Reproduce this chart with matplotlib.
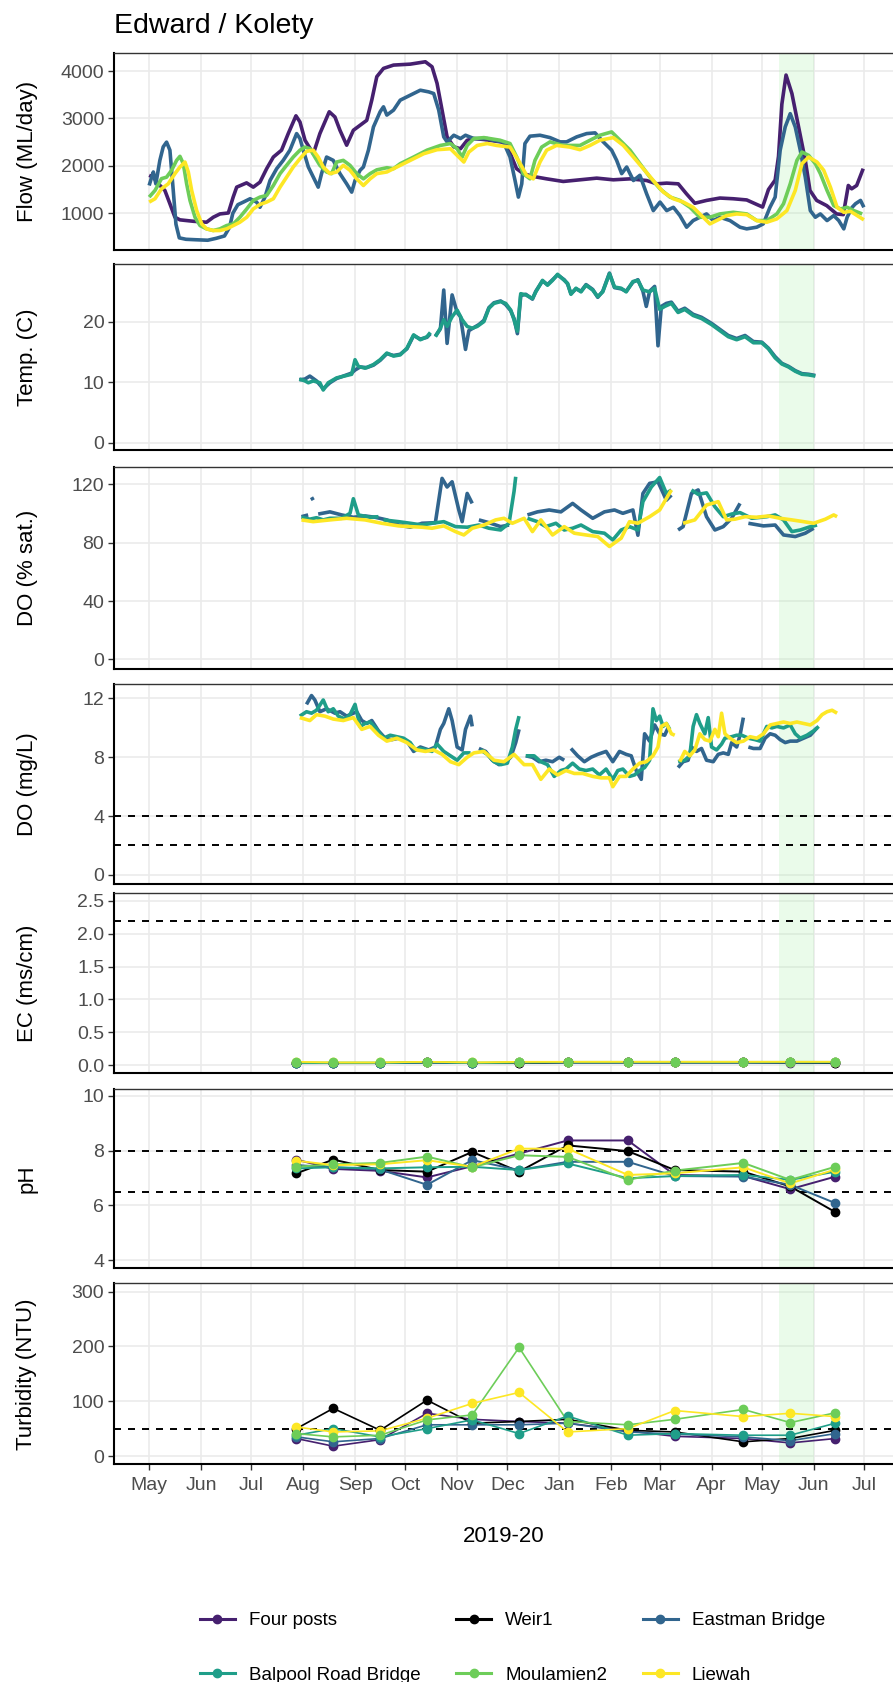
import matplotlib
matplotlib.use('Agg')
import matplotlib.pyplot as plt
import matplotlib.dates as mdates
from matplotlib.lines import Line2D
from matplotlib.ticker import FormatStrFormatter
import numpy as np
import pandas as pd

plt.rcParams['font.family'] = ['Liberation Sans', 'DejaVu Sans']

nan = np.nan

# ---------------- data ----------------
start = '2019-05-01'   # day 0 for the continuous logger series
sites = ['Four posts', 'Weir1', 'Eastman Bridge', 'Balpool Road Bridge', 'Moulamien2', 'Liewah']
colors = {'Four posts': '#46206F', 'Weir1': '#000000', 'Eastman Bridge': '#31658E',
          'Balpool Road Bridge': '#1F9E89', 'Moulamien2': '#6DCD59', 'Liewah': '#FDE725'}

# Flow (ML/day), days since 2019-05-01
flow_fp_days = [0, 2.5, 5.5, 9.4, 12.4, 15.4, 18.4, 26.4, 34.3, 38.3, 42.3, 47.3, 50.2, 52.3, 58.2, 62.2, 66.2, 70.2,
                74.2, 79.1, 83.1, 87.7, 90.1, 93.1, 98.1, 102, 107.6, 111, 114, 118, 122, 126, 130, 133, 136, 140,
                146, 156, 165, 169, 172, 175, 178, 182, 186, 190, 194, 200, 210, 213.6, 216.6, 219.5, 223.5, 229.5,
                237.5, 247.4, 257.4, 267.4, 277.3, 287.3, 297.2, 303.2, 309.2, 316.1, 321, 326, 333, 341, 349, 357,
                363, 366.5, 370, 374, 376, 378, 380.5, 384, 388, 392, 394.8, 398.8, 404.8, 410.7, 414.7, 417.7,
                419.7, 422.7, 426.6]
flow_fp = [1800, 1760, 1620, 1480, 1200, 915, 860, 830, 810, 915, 985, 1005, 1340, 1550, 1640, 1550, 1655, 1940,
           2185, 2330, 2680, 3055, 2925, 2540, 2255, 2680, 3140, 3030, 2750, 2435, 2750, 2855, 2960, 3385, 3880, 4055,
           4125, 4145, 4195, 4090, 3740, 3175, 2610, 2400, 2360, 2540, 2575, 2555, 2505, 2470, 2185, 1940, 1835, 1775,
           1725, 1670, 1705, 1740, 1705, 1725, 1690, 1620, 1635, 1620, 1410, 1210, 1270, 1320, 1305, 1280,
           1185, 1130, 1500, 1700, 2200, 3300, 3915, 3525, 2820, 2115, 1480, 1270, 1160, 985, 970, 1585,
           1515, 1585, 1940]

flow_eb_days = [0, 1.5, 2.5, 4, 6.4, 8.4, 10.4, 12.4, 14.4, 16, 18, 22, 28, 35, 40, 45, 48, 50, 53, 56.3, 60.3, 64.2,
                66.2, 69.2, 72.2, 76.2, 80.1, 84.1, 88.1, 90.1, 92.1, 95.1, 98.1, 101, 103, 106, 110, 114, 118, 121,
                123, 126, 128, 131, 134, 138, 140, 142, 146, 150, 156, 162, 167, 170, 173, 176, 178, 182, 186, 189,
                194, 202, 205.6, 211.6, 215.6, 218.6, 220.6, 222.6, 224.5, 227.5, 233.5, 239.5, 245.5, 249.4, 255.4,
                261.4, 266.4, 271.3, 276.3, 279.3, 282.3, 285.3, 289.3, 293.2, 297.2, 301.2, 305.2, 309.2, 313.2,
                317.1, 321.1, 325, 329, 333, 337, 341, 347, 353, 357, 363, 366.9, 370.9, 374, 377, 380, 383, 386,
                389, 392, 395, 398, 401, 405, 409, 412, 415, 417, 420, 422, 425, 427]
flow_eb = [1585, 1760, 1870, 1620, 2115, 2400, 2500, 2330, 1480, 770, 480, 450, 440, 430, 470, 520, 700, 1000, 1180,
           1235, 1305, 1235, 1125, 1340, 1690, 1940, 2115, 2330, 2680, 2575, 2330, 1975, 1760, 1550, 1835, 2185, 2115,
           1835, 1620, 1445, 1690, 1905, 1975, 2330, 2820, 3140, 3245, 3070, 3175, 3385, 3490, 3595, 3560, 3525, 3175,
           2610, 2505, 2645, 2575, 2645, 2575, 2575, 2540, 2505, 2185, 1690, 1340, 1620, 2470, 2625, 2645, 2595, 2505,
           2505, 2610, 2680, 2695, 2505, 2330, 2115, 1835, 1975, 1690, 1800, 1410, 1055, 1235, 1055, 1125, 950, 705,
           845, 915, 985, 845, 915, 845, 705, 670, 705, 775, 1125, 1340, 2330, 2820, 3100, 2820, 2330, 1760, 1055,
           915, 985, 845, 950, 845, 670, 915, 1125, 1200, 1270, 1125]

flow_mo_days = [0, 3.5, 7.4, 10.4, 13.4, 16.4, 18.4, 20.4, 22.4, 24.4, 27.4, 30.4, 34.3, 38.3, 42.3, 46.3, 50.3, 54.2,
                58.3, 62.2, 66.2, 70.2, 74.2, 78.2, 82.1, 86.1, 90.1, 93.1, 96.1, 99, 102, 106, 109, 112, 116, 120,
                124, 128, 132, 136, 142, 146, 150, 158, 166, 174, 180, 184, 187, 190, 194, 200, 209.6, 215.6, 219.6,
                223.5, 227.5, 230.5, 234.5, 239.5, 247.4, 257.4, 263.4, 269.3, 276.3, 281.3, 287.3, 293.2, 299.2,
                305.2, 311.2, 317.1, 323.1, 329, 335, 341, 349, 357, 363, 369, 375, 379, 383, 387, 390, 394, 398,
                401, 405, 409, 413, 417, 421, 426]
flow_mo = [1340, 1480, 1730, 1760, 1905, 2115, 2200, 2045, 1620, 1270, 915, 740, 670, 635, 670, 740, 775, 915,
           1090, 1270, 1340, 1375, 1585, 1835, 2010, 2185, 2330, 2395, 2360, 2185, 2010, 1870, 1835, 2080, 2115, 2010,
           1835, 1725, 1835, 1915, 1960, 1940, 2045, 2185, 2330, 2430, 2470, 2360, 2185, 2430, 2575, 2595, 2540, 2470,
           2185, 1835, 1725, 2115, 2395, 2505, 2430, 2430, 2540, 2645, 2715, 2540, 2330, 2045, 1760, 1515, 1340,
           1270, 1125, 915, 915, 985, 1020, 985, 845, 845, 985, 1200, 1620, 2115, 2290, 2220, 2045, 1835, 1480,
           1160, 1090, 1125, 1055, 985]

flow_li_days = [0, 3.5, 7.4, 11.4, 15.4, 18.4, 21.4, 23.4, 25.4, 28.4, 31.4, 34.3, 38.3, 42.3, 46.3, 50.3, 54.2, 58.3,
                62.2, 66.2, 70.2, 74.2, 78.2, 82.1, 86.1, 90.1, 94, 98, 101, 104, 108, 112, 116, 120, 124, 128, 132,
                136, 142, 148, 156, 164, 172, 180, 184, 188, 191, 196, 202, 207.6, 215.6, 220.6, 225.5, 229.5, 233.5,
                237.5, 243.4, 251.4, 257.4, 263.4, 269.3, 277.3, 283.3, 289.3, 295.2, 301.2, 307.2, 313.2, 319.1, 325,
                331, 335, 339, 345, 351, 357, 363, 369, 375, 381, 386, 390, 394, 399, 403, 407, 411, 415, 419, 423,
                427]
flow_li = [1235, 1305, 1515, 1620, 1835, 1975, 2080, 1870, 1480, 1055, 775, 670, 635, 635, 670, 740, 810, 915,
           1090, 1185, 1235, 1305, 1550, 1760, 1975, 2150, 2305, 2330, 2185, 1975, 1835, 1870, 2010, 1905, 1725, 1585,
           1725, 1835, 1870, 1975, 2115, 2255, 2340, 2360, 2220, 2080, 2290, 2430, 2470, 2430, 2395, 2115, 1800, 1725,
           2080, 2330, 2430, 2395, 2340, 2430, 2540, 2595, 2430, 2185, 1940, 1690, 1445, 1305, 1235, 1125, 915, 775,
           845, 950, 985, 970, 845, 810, 880, 1055, 1480, 2045, 2185, 2080, 1905, 1550, 1125, 1020, 1040, 950, 860]

# Temperature (C)
temp_bp_days = [89.7, 93.1, 95.1, 98, 102, 104, 107, 112, 118, 121, 123, 125, 129, 134, 138, 142, 146, 150, 154, 158,
                162, 166, 168, 169.5, 171, 174, 176, 178, 181, 184, 187, 190, 193, 196, 200, 203, 206, 210, 213, 216,
                218, 220, 222, 225, 229, 231, 235, 238, 241, 244, 248, 250, 252, 255, 258, 261, 265, 268, 271, 275,
                278, 282, 285, 289, 292, 295, 299, 302, 305, 308, 312, 316, 320, 325, 330, 336, 341, 346, 351, 356,
                361, 366, 370, 374, 378, 382, 386, 390, 394, 398]
temp_bp = [10.5, 10.2, 9.9, 10.2, 9.9, 8.7, 9.9, 10.7, 11.1, 11.3, 13.7, 12.6, 12.3, 12.9, 13.7, 14.8, 14.3, 14.5, 15.6,
           17.8, 17.0, 17.5, 18.2, nan, 17.5, 18.9, 20.3, 19.2, 20.8, 21.9, 20.3, 19.2, 18.9, 19.2, 20.0, 22.2, 23.0,
           23.3, 23.0, 21.9, 20.3, 18.4, 24.6, 24.4, 23.8, 24.9, 26.8, 26.0, 26.8, 27.8, 26.8, 26.3, 24.5, 25.5, 24.9,
           26.0, 25.2, 24.1, 24.9, 27.9, 25.7, 25.5, 24.9, 26.6, 26.8, 25.2, 24.9, 25.5, 22.0, 22.5, 23.0, 21.5, 22.0,
           21.0, 20.5, 19.5, 18.5, 17.5, 17.0, 17.5, 16.5, 16.5, 15.5, 14.0, 13.0, 12.5, 11.8, 11.3, 11.2, 11.0]

temp_eb_days = [89.7, 93, 96, 100, 104, 108, 112, 118, 121, 123, 126, 130, 134, 138, 142, 146, 150, 154, 158, 162, 166,
                168, 169.5, 171, 174, 176, 178, 181, 184, 186, 189, 191, 194, 197, 200, 203, 206, 210, 213, 216, 218,
                220, 222, 225, 229, 231, 235, 238, 241, 244, 248, 250, 252, 255, 258, 261, 265, 268, 271, 275, 278,
                282, 285, 289, 292, 295, 297, 299, 302, 304, 306, 309, 312, 316, 320, 325, 330, 336, 341, 346, 351,
                356, 361, 366, 370, 374, 378, 382, 386, 390, 394, 398]
temp_eb = [10.4, 10.5, 11.0, 10.2, 8.9, 9.9, 10.6, 11.2, 11.5, 12.0, 12.5, 12.4, 12.8, 13.6, 14.7, 14.4, 14.6, 15.5,
           17.7, 17.1, 17.4, 18.0, nan, 17.6, 18.8, 25.2, 16.4, 24.4, 21.5, 20.8, 15.4, 18.5, 19.0, 19.5, 20.2, 22.3,
           23.1, 23.4, 22.8, 21.8, 20.5, 18.0, 24.3, 24.5, 23.7, 25.0, 26.7, 26.1, 26.9, 27.7, 26.9, 26.2, 24.6, 25.4,
           25.0, 26.1, 25.3, 24.0, 25.0, 28.0, 25.6, 25.4, 25.0, 26.5, 26.9, 25.0, 22.5, 25.0, 25.8, 16.0, 22.5, 23.0,
           23.2, 21.7, 22.2, 21.2, 20.7, 19.7, 18.7, 17.7, 17.2, 17.7, 16.7, 16.6, 15.6, 14.2, 13.1, 12.6, 11.9, 11.4,
           11.3, 11.1]

# DO (% sat.)
dos_bp_days = [91, 96, 100, 104, 108, 115, 120, 122, 125, 132, 137, 138.5, 140, 149, 156, 163, 169, 176, 183, 190, 197,
               203, 210, 215, 218, 219, 220, 226, 232, 237, 243, 248, 253, 258, 265, 272, 277, 282, 287, 292, 295,
               300, 305, 309, 312, 318, 324, 328, 333, 338, 343, 348, 353, 360, 369, 374, 379, 384, 389, 394, 399]
dos_bp = [97.3, 96, 97, 95.5, 96.6, 96.6, 100, 110, 98.9, 97.3, 97.7, nan, 95.5, 94.3, 93.2, 92, 93.2, 94.3, 90.9,
          90.5, 92, 89.8, 88.6, 93.2, 115, 125, nan, 96.6, 94.3, 90.9, 93.2, 88.6, 89.8, 92, 87.5, 86.4, 81.8, 88.6,
          90.9, 88.6, 108, 118, 124.5, 113.6, 116, nan, 116, 113, 114, 104.5, 97.7, 99.5, 100.5, 96.6, 97.7, 98.9,
          95.5, 87.5, 88.6, 90.5, 92]

dos_eb_days = [91, 95, 96, 97, 98, 99, 101, 108, 115, 122, 129, 135, 142, 149, 156, 163, 171, 175, 178, 181, 185, 187,
               190, 193, 195, 197, 203, 210, 215, 220, 226, 232, 239, 246, 253, 258, 265, 272, 278, 283, 289, 292,
               295, 299, 304, 309, 312, 314, 316, 319, 324, 328, 333, 338, 343, 348, 353, 355, 358, 367, 374, 379,
               386, 392, 397]
dos_eb = [97.7, 98.9, nan, 111, 109, nan, 99.5, 101, 98.9, 97.3, 98.2, 97.3, 95.5, 92, 90.5, 93.2, 93.6, 123.9, 118,
          121.6, 102.3, 94.3, 113.6, 106.8, nan, 95.5, 93.6, 90.9, 92, nan, 98.9, 101, 102.3, 101, 106.8, 102.3, 96.6,
          101, 102.3, 100, 102.3, 85, 113.6, 120.5, 121.6, 109, 112.5, nan, 88.6, 90.9, 113.6, 116, 97.7, 88.6, 90.9,
          96.6, 106.8, nan, 93.2, 91.4, 92, 85.2, 84.1, 86.4, 89.8]

dos_li_days = [91, 98, 108, 118, 129, 139, 149, 156, 163, 169, 176, 183, 188, 193, 200, 207, 212, 217, 224, 229, 234,
               241, 248, 254, 261, 268, 275, 282, 287, 292, 299, 305, 312, 315, 319, 326, 333, 340, 345, 350, 356,
               363, 370, 377, 384, 391, 397, 404, 409, 411]
dos_li = [95.5, 94.3, 95.5, 96.6, 95.5, 93.2, 91.4, 90.9, 90.5, 89.8, 91.4, 87.5, 85.2, 89.8, 92, 95.5, 96.6, 93.2,
          96.6, 87.5, 95.5, 85.2, 90.9, 86.4, 85.2, 84.1, 77.3, 83, 94.3, 93.2, 97.7, 102.3, 116, nan, 93.2, 95.5,
          105.7, 108, 95.5, 96, 97.7, 97.3, 98.2, 96.6, 95.5, 94.3, 93.2, 96, 98.9, 97.7]

# DO (mg/L)
dom_bp_days = [90, 94, 97, 100, 104, 107, 110, 113, 117, 120, 123, 126, 129, 132, 136, 140, 144, 148, 152, 156, 159,
               162, 166, 169, 172, 176, 180, 184, 188, 192, 195, 198, 202, 206, 210, 214, 217, 219, 221, 223, 225,
               230, 234, 238, 242, 246, 249, 253, 257, 261, 265, 269, 273, 277, 280, 283, 287, 290, 293, 296, 299,
               301, 303, 305, 307, 309, 311, 313, 316, 320, 323, 325, 327, 329, 332, 334, 336, 339, 342, 344, 348,
               351, 354, 358, 362, 365, 369, 372, 375, 379, 383, 386, 389, 393, 397, 400]
dom_bp = [10.8, 11.1, 11.0, 11.2, 11.9, 11.1, 11.3, 10.8, 10.6, 10.9, 11.6, 10.1, 10.3, 10.4, 9.9, 9.3, 9.5, 9.4, 9.3,
          9.0, 8.5, 8.6, 8.5, 8.4, 8.9, 8.4, 8.1, 7.8, 8.3, 8.3, nan, 8.5, 8.2, 7.7, 7.5, 7.6, 8.7, 9.9, 10.8, nan, 8.1,
          8.1, 7.7, 7.5, 6.7, 7.1, 7.2, 7.6, 7.2, 7.1, 7.2, 6.8, 7.2, 6.5, 7.1, 7.2, 6.7, 6.8, 7.1, 7.3, 7.8, 11.3,
          10.5, 10.8, 10.1, 10.3, 9.9, nan, 7.7, 7.8, 8.1, 10.1, 10.9, 10.3, 9.6, 10.7, 8.7, 8.5, 8.9, 9.3, 9.4, 9.5,
          9.5, 9.3, 9.2, 9.1, 10.1, 10.0, 10.1, 10.0, 10.2, 9.6, 9.3, 9.5, 9.8, 10.1]

dom_eb_days = [94, 97, 99, 102, 106, 111, 114, 118, 124, 127, 130, 133, 137, 141, 145, 149, 154, 158, 162, 167, 171,
               174, 176, 179, 181, 184, 187, 189, 192, 193, 195, 197, 201, 205, 209, 213, 216, 219, 221, 223, 225,
               229, 233, 237, 241, 245, 248, 250, 252, 256, 260, 264, 268, 273, 277, 281, 285, 288, 291, 294, 296,
               299, 302, 305, 308, 310, 313, 316, 319, 322, 324, 327, 330, 333, 337, 340, 343, 346, 348, 351, 353,
               355, 356.5, 358, 361, 365, 368, 371, 374, 377, 380, 383, 387, 391, 395, 399]
dom_eb = [11.6, 12.2, 11.9, 11.1, 11.3, 11.0, 11.1, 10.8, 11.1, 10.5, 10.3, 10.5, 9.8, 9.3, 9.2, 9.3, 9.1, 8.4, 8.7,
          8.5, 8.7, 9.9, 10.3, 11.3, 10.5, 8.7, 8.5, 9.9, 10.8, 10.1, nan, 8.6, 8.4, 7.8, 7.5, 7.7, 8.0, 9.0, 9.9, nan,
          8.1, 8.0, 7.7, 7.8, 7.7, 8.0, 7.8, nan, 8.6, 8.1, 7.7, 8.0, 8.2, 8.4, 7.7, 8.4, 8.2, 8.1, 7.1, 6.5, 9.6, 9.1,
          10.2, 9.6, 9.5, 10.0, nan, 7.3, 7.7, 7.8, 8.7, 8.4, 8.6, 7.8, 7.7, 8.2, 8.3, 8.2, 9.0, 8.7, 9.5, 10.7, nan,
          8.7, 8.6, 8.6, 9.3, 9.6, 9.5, 9.2, 9.0, 9.1, 9.1, 9.3, 9.5, 10.0]

dom_li_days = [90, 96, 100, 105, 110, 116, 122, 127, 132, 137, 142, 148, 154, 160, 165, 170, 175, 180, 185, 190, 194,
               200, 206, 212, 218, 224, 229, 234, 239, 244, 249, 254, 259, 265, 270, 275, 277, 281, 285, 289, 293,
               297, 301, 304, 306, 309, 312, 314, 315.5, 317, 320, 323, 326, 329, 332, 335, 338, 340, 342, 344, 347,
               351, 355, 359, 363, 367, 371, 375, 379, 383, 387, 391, 395, 399, 402, 405, 408, 411]
dom_li = [10.7, 10.5, 10.9, 10.8, 10.6, 10.5, 10.7, 9.9, 10.1, 9.5, 9.1, 9.3, 9.0, 8.5, 8.4, 8.5, 8.2, 7.7, 7.5, 8.0,
          8.3, 8.4, 7.8, 7.7, 8.2, 7.5, 7.5, 6.5, 7.2, 6.8, 7.1, 6.9, 6.9, 6.7, 6.6, 6.6, 6.0, 6.7, 6.7, 7.2, 7.6, 7.7,
          8.1, 8.7, 10.1, 10.3, 9.6, 9.5, nan, 7.7, 8.4, 8.1, 8.5, 9.6, 9.2, 9.1, 9.9, 9.4, 11.0, 9.6, 9.3, 9.0, 9.1,
          9.4, 9.3, 9.6, 10.2, 10.3, 10.4, 10.3, 10.4, 10.3, 10.2, 10.5, 10.9, 11.1, 11.2, 11.0]

# Spot samples
sample_dates = ['2019-07-28', '2019-08-19', '2019-09-16', '2019-10-14', '2019-11-10', '2019-12-08',
                '2020-01-06', '2020-02-11', '2020-03-10', '2020-04-20', '2020-05-18', '2020-06-14']
ec_vals = {
    'Four posts':          [0.03, 0.03, 0.03, 0.04, 0.03, 0.03, 0.04, 0.04, 0.04, 0.04, 0.03, 0.03],
    'Weir1':               [0.03, 0.03, 0.03, 0.04, 0.03, 0.03, 0.04, 0.04, 0.04, 0.04, 0.04, 0.03],
    'Eastman Bridge':      [0.03, 0.03, 0.03, 0.04, 0.03, 0.04, 0.04, 0.04, 0.04, 0.04, 0.04, 0.04],
    'Balpool Road Bridge': [0.03, 0.03, 0.03, 0.04, 0.03, 0.04, 0.04, 0.04, 0.04, 0.04, 0.04, 0.04],
    'Moulamien2':          [0.04, 0.04, 0.04, 0.05, 0.04, 0.04, 0.05, 0.05, 0.05, 0.05, 0.05, 0.05],
    'Liewah':              [0.05, 0.04, 0.04, 0.05, 0.04, 0.05, 0.05, 0.05, 0.05, 0.05, 0.05, 0.05],
}
ph_vals = {
    'Four posts':          [7.67, 7.33, 7.26, 7.02, 7.43, 7.89, 8.37, 8.37, 7.11, 7.07, 6.59, 7.05],
    'Weir1':               [7.17, 7.67, 7.29, 7.23, 7.95, 7.23, 8.19, 7.98, 7.29, 7.23, 6.69, 5.75],
    'Eastman Bridge':      [7.47, 7.39, 7.31, 6.75, 7.65, 7.29, 7.59, 7.59, 7.07, 7.05, 6.75, 6.08],
    'Balpool Road Bridge': [7.35, 7.39, 7.35, 7.39, 7.41, 7.29, 7.53, 6.99, 7.07, 7.11, 6.93, 7.23],
    'Moulamien2':          [7.41, 7.50, 7.55, 7.78, 7.39, 7.83, 7.77, 6.93, 7.27, 7.55, 6.93, 7.41],
    'Liewah':              [7.63, 7.47, 7.50, 7.65, 7.41, 8.07, 8.07, 7.11, 7.17, 7.39, 6.80, 7.31],
}
turb_vals = {
    'Four posts':          [32, 18, 30, 78, 67, 63, 60, 46, 36, 32, 24, 32],
    'Weir1':               [50, 87, 47, 102, 60, 63, 67, 47, 44, 26, 32, 47],
    'Eastman Bridge':      [35, 26, 32, 57, 57, 57, 60, 44, 40, 35, 28, 41],
    'Balpool Road Bridge': [38, 50, 35, 50, 66, 41, 73, 38, 41, 38, 38, 60],
    'Moulamien2':          [41, 35, 38, 66, 75, 198, 63, 57, 67, 85, 61, 79],
    'Liewah':              [53, 44, 46, 69, 96, 116, 44, 50, 83, 72, 78, 72],
}

event_start, event_end = '2020-05-11', '2020-06-01'

# ---------------- plotting ----------------
t0 = mdates.date2num(pd.Timestamp(start))


def xs(days):
    return t0 + np.asarray(days, float)


W, H = 893, 1682
fig = plt.figure(figsize=(W / 100, H / 100), dpi=100)

left_px = 114
panel_px = [(53, 250), (264, 450), (466.7, 668.7), (683.5, 884), (892.7, 1073.3), (1089, 1268.3), (1283.3, 1464.3)]
axes = []
for top, bot in panel_px:
    ax = fig.add_axes([left_px / W, 1 - bot / H, (W - left_px) / W, (bot - top) / H])
    axes.append(ax)

xlim = (t0 - 21.0, t0 + 444.4)
grey30 = '#4D4D4D'

for i, ax in enumerate(axes):
    ax.set_xlim(xlim)
    ax.set_axisbelow(True)
    ax.grid(True, color='#EBEBEB', lw=1.2)
    ax.xaxis.set_major_locator(mdates.MonthLocator())
    ax.xaxis.set_major_formatter(mdates.DateFormatter('%b'))
    ax.spines['right'].set_visible(False)
    ax.spines['top'].set_color('#333333')
    ax.spines['top'].set_linewidth(1.0)
    for s in ('left', 'bottom'):
        ax.spines[s].set_color('black')
        ax.spines[s].set_linewidth(1.5)
    ax.tick_params(axis='y', labelsize=14, labelcolor=grey30, color='#333333', length=4, width=1.0, pad=3)
    if i < len(axes) - 1:
        ax.tick_params(axis='x', bottom=False, labelbottom=False)
    else:
        ax.tick_params(axis='x', labelsize=14, labelcolor=grey30, color='#333333', length=4, width=1.0, pad=5)
    ax.axvspan(mdates.date2num(pd.Timestamp(event_start)), mdates.date2num(pd.Timestamp(event_end)),
               color='#90EE90', alpha=0.18, lw=0, zorder=1)

lw_cont = 2.6


def cont(ax, series):
    for site, days, vals in series:
        ax.plot(xs(days), vals, color=colors[site], lw=lw_cont, solid_capstyle='butt', zorder=3)


def ylabel(ax, text):
    pos = ax.get_position()
    fig.text(27 / W, pos.y0 + pos.height / 2, text, rotation=90, fontsize=16, ha='center', va='center')


# Flow
ax = axes[0]
cont(ax, [('Four posts', flow_fp_days, flow_fp), ('Eastman Bridge', flow_eb_days, flow_eb),
          ('Moulamien2', flow_mo_days, flow_mo), ('Liewah', flow_li_days, flow_li)])
ax.set_ylim(224, 4380)
ax.set_yticks([1000, 2000, 3000, 4000])
ylabel(ax, 'Flow (ML/day)')

# Temperature
ax = axes[1]
cont(ax, [('Eastman Bridge', temp_eb_days, temp_eb), ('Balpool Road Bridge', temp_bp_days, temp_bp)])
ax.set_ylim(-1.2, 29.5)
ax.set_yticks([0, 10, 20])
ylabel(ax, 'Temp. (C)')

# DO % sat
ax = axes[2]
cont(ax, [('Eastman Bridge', dos_eb_days, dos_eb), ('Balpool Road Bridge', dos_bp_days, dos_bp),
          ('Liewah', dos_li_days, dos_li)])
ax.set_ylim(-6.3, 131.9)
ax.set_yticks([0, 40, 80, 120])
ylabel(ax, 'DO (% sat.)')

# DO mg/L
ax = axes[3]
cont(ax, [('Eastman Bridge', dom_eb_days, dom_eb), ('Balpool Road Bridge', dom_bp_days, dom_bp),
          ('Liewah', dom_li_days, dom_li)])
for yv in (4, 2):
    ax.axhline(yv, color='black', lw=1.4, ls=(0, (3.6, 3.6)), zorder=2)
ax.set_ylim(-0.62, 13.02)
ax.set_yticks([0, 4, 8, 12])
ylabel(ax, 'DO (mg/L)')

# Samples
sx = mdates.date2num(pd.to_datetime(sample_dates))
point_order = ['Four posts', 'Weir1', 'Eastman Bridge', 'Balpool Road Bridge', 'Liewah', 'Moulamien2']


def samples(ax, vals, lw):
    for site in sites:
        ax.plot(sx, vals[site], color=colors[site], lw=lw, zorder=3)
    for site in point_order:
        ax.plot(sx, vals[site], ls='none', marker='o', ms=6, color=colors[site], zorder=4)


ax = axes[4]
ax.axhline(2.2, color='black', lw=1.4, ls=(0, (3.6, 3.6)), zorder=2)
samples(ax, ec_vals, 1.3)
ax.set_ylim(-0.125, 2.625)
ax.set_yticks([0, 0.5, 1.0, 1.5, 2.0, 2.5])
ax.yaxis.set_major_formatter(FormatStrFormatter('%.1f'))
ylabel(ax, 'EC (ms/cm)')

ax = axes[5]
for yv in (8, 6.5):
    ax.axhline(yv, color='black', lw=1.4, ls=(0, (3.6, 3.6)), zorder=2)
samples(ax, ph_vals, 1.4)
ax.set_ylim(3.7, 10.25)
ax.set_yticks([4, 6, 8, 10])
ylabel(ax, 'pH')

ax = axes[6]
ax.axhline(50, color='black', lw=1.4, ls=(0, (3.6, 3.6)), zorder=2)
samples(ax, turb_vals, 1.2)
ax.set_ylim(-15, 315)
ax.set_yticks([0, 100, 200, 300])
ylabel(ax, 'Turbidity (NTU)')

# titles
fig.text(left_px / W, 1 - 33 / H, 'Edward / Kolety', fontsize=20.5, va='baseline', ha='left')
fig.text((left_px + W) / 2 / W, 1 - 1536 / H, '2019-20', fontsize=16, ha='center', va='center')

# legend (row-major order like ggplot)
order = ['Four posts', 'Balpool Road Bridge', 'Weir1', 'Moulamien2', 'Eastman Bridge', 'Liewah']
handles = [Line2D([], [], color=colors[s], lw=2.2, marker='o', ms=6) for s in order]
fig.legend(handles, order, ncol=3, loc='center left', bbox_to_anchor=(200 / W, 1 - 1648 / H),
           frameon=False, fontsize=13.5, handlelength=1.86, handletextpad=0.75, columnspacing=1.9,
           labelspacing=2.0, borderpad=0, borderaxespad=0)

fig.savefig('out.png', dpi=100)
